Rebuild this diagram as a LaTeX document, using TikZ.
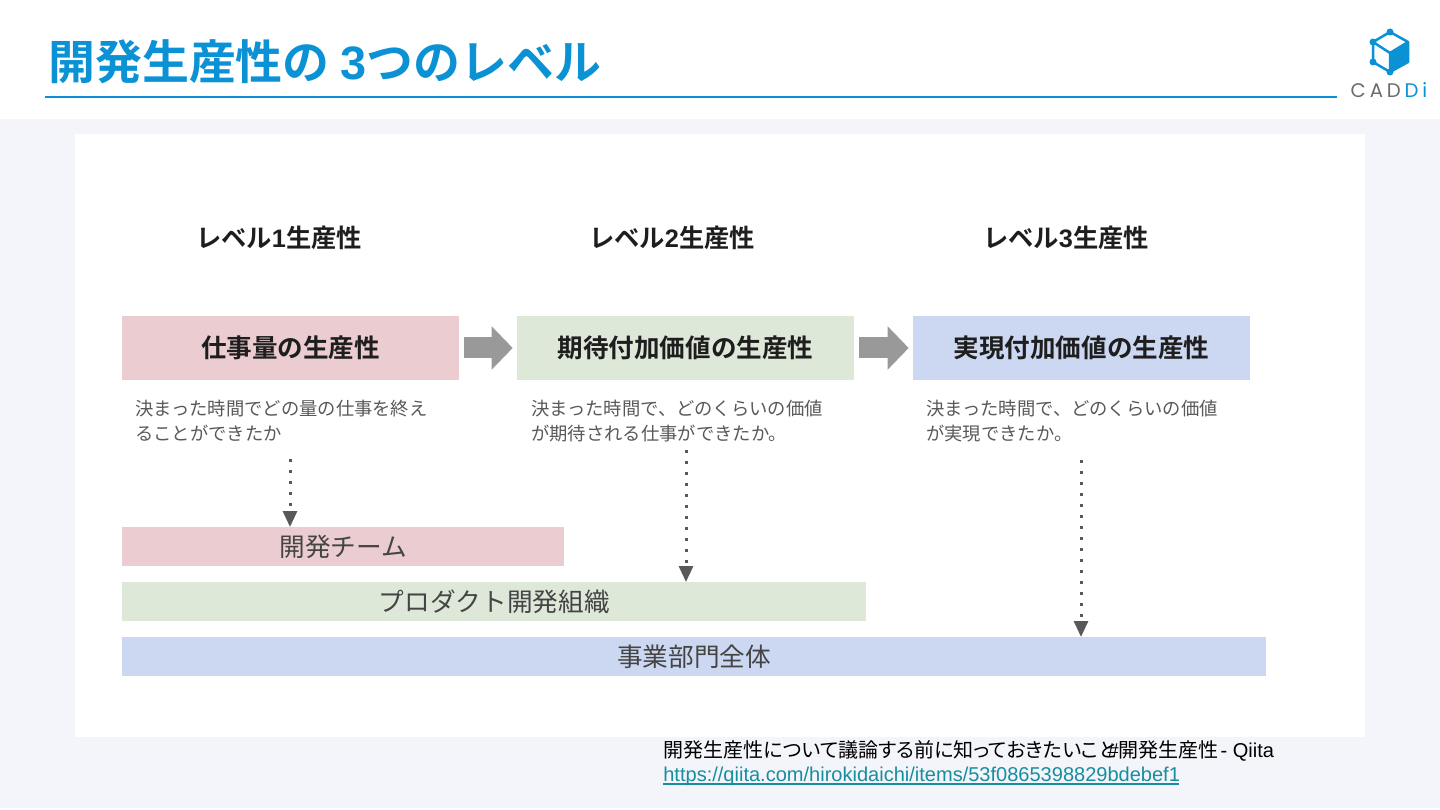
\documentclass[tikz,border=0pt]{standalone}
\usepackage{fontspec}
\setmainfont{Liberation Sans}
\newfontfamily\cjk{Noto Sans CJK JP}
\newfontfamily\cjkprop[RawFeature=+palt]{Noto Sans CJK JP}
\newfontfamily\cjkbold{Noto Sans CJK JP Bold}
\newfontfamily\logofont{Poppins}
\usetikzlibrary{arrows.meta}
\definecolor{titleblue}{HTML}{0A92D4}
\definecolor{pagegrey}{HTML}{F4F5FA}
\definecolor{pinkfill}{HTML}{EBCDD1}
\definecolor{greenfill}{HTML}{DEE8D8}
\definecolor{bluefill}{HTML}{CCD8F2}
\definecolor{linkteal}{HTML}{178E9E}
\definecolor{textgrey}{HTML}{595959}
\definecolor{bargrey}{HTML}{444444}
\definecolor{headblack}{HTML}{1E1E1E}
\definecolor{logogrey}{HTML}{6B6B6B}
\tikzset{
  header/.style={font=\cjkbold\fontsize{14.4}{16}\selectfont, text=headblack, inner sep=0pt},
  levelbox/.style={minimum width=6.74cm, minimum height=1.28cm, inner sep=0pt,
    font=\cjkbold\fontsize{14.55}{16}\selectfont, text=headblack},
  desc/.style={anchor=north west, align=left, inner sep=0pt, text=textgrey,
    font=\cjk\fontsize{10.42}{14.2}\selectfont},
  scopebar/.style={anchor=north west, minimum height=0.78cm, inner sep=0pt,
    font=\cjk\fontsize{14.6}{16}\selectfont, text=bargrey},
  fatarrow/.style={draw=black!40, line width=0.42cm, shorten <=0.1cm, shorten >=0.08cm,
    -{Triangle[length=0.42cm, width=0.84cm]}},
  reach/.style={draw=textgrey, line width=0.06cm, dash pattern=on 0.06cm off 0.16cm,
    -{Triangle[length=0.32cm, width=0.28cm, fill=textgrey]}},
  logoline/.style={draw=titleblue, line width=0.05cm, line join=round}
}
\begin{document}
\begin{tikzpicture}[x=0.02cm, y=-0.02cm]
  \useasboundingbox (0,0) rectangle (1440,810);
  \fill [pagegrey] (0,119) rectangle (1440,808);
  \fill [white] (75,134) rectangle (1365,737);
  % title
  \node [anchor=base west, inner sep=0pt, text=titleblue, font=\cjkbold\fontsize{26.7}{30}\selectfont]
    (title) at (48,80) {開発生産性の {\fontspec{Liberation Sans Bold}3}つのレベル};
  \draw [titleblue, line width=0.03cm] (45,97) -- (1337,97);
  % logo
  \fill [titleblue] (1390,53) -- (1408,42) -- (1408,62) -- (1390,72) -- cycle;
  \draw [logoline] (1390,32) -- (1408,42) -- (1408,62) -- (1390,72) -- (1373,62) -- (1373,42) -- cycle;
  \draw [logoline] (1373,42) -- (1390,53) -- (1408,42) (1390,53) -- (1390,72);
  \foreach \p in {(1390,32),(1373,42),(1373,62),(1390,72)}
    \fill [titleblue] \p circle (3.5);
  \node [inner sep=0pt, text=logogrey, font=\logofont\fontsize{11.2}{13}\selectfont] (logo) at (1389,90)
    {C\kern2.2pt A\kern2.2pt D\kern2.2pt\textcolor{titleblue}{D\kern2.2pt i}};
  % levels
  \node [header] (head1) at (279,238) {レベル{\fontspec{Liberation Sans Bold}1}生産性};
  \node [header] (head2) at (672,238) {レベル{\fontspec{Liberation Sans Bold}2}生産性};
  \node [header] (head3) at (1066,238) {レベル{\fontspec{Liberation Sans Bold}3}生産性};
  \node [levelbox, fill=pinkfill] (work) at (290.5,348) {仕事量の生産性};
  \node [levelbox, fill=greenfill] (expect) at (685.5,348) {期待付加価値の生産性};
  \node [levelbox, fill=bluefill] (real) at (1081.5,348) {実現付加価値の生産性};
  \draw [fatarrow] (work) -- (expect);
  \draw [fatarrow] (expect) -- (real);
  \node [desc] (desc1) at (135,400) {決まった時間でどの量の仕事を終え\\ることができたか};
  \node [desc] (desc2) at (531,400) {決まった時間で、どのくらいの価値\\が期待される仕事ができたか。};
  \node [desc] (desc3) at (926,400) {決まった時間で、どのくらいの価値\\が実現できたか。};
  % scope bars
  \node [scopebar, fill=pinkfill, minimum width=8.84cm] (team) at (122,527) {開発チーム};
  \node [scopebar, fill=greenfill, minimum width=14.88cm] (org) at (122,582) {プロダクト開発組織};
  \node [scopebar, fill=bluefill, minimum width=22.88cm] (biz) at (122,637) {事業部門全体};
  \coordinate (from1) at (290,459);
  \coordinate (from2) at (686,450);
  \coordinate (from3) at (1081,460);
  \draw [reach] (from1) -- (from1 |- team.north);
  \draw [reach] (from2) -- (from2 |- org.north);
  \draw [reach] (from3) -- (from3 |- biz.north);
  % source
  \node [anchor=base west, inner sep=0pt, font=\fontsize{11.4}{14}\selectfont] (source) at (663,757)
    {{\cjk 開発生産性}{\cjkprop について議論する前に知っておきたいこと}\kern-5pt\#{\cjk 開発生産性}\kern1pt- Qiita};
  \node [anchor=base west, inner sep=0pt, text=linkteal, font=\fontsize{11.4}{14}\selectfont] (url) at (663,781)
    {https://qiita.com/hirokidaichi/items/53f0865398829bdebef1};
  \draw [linkteal, line width=0.025cm] (663,784) -- (1179,784);
\end{tikzpicture}
\end{document}
